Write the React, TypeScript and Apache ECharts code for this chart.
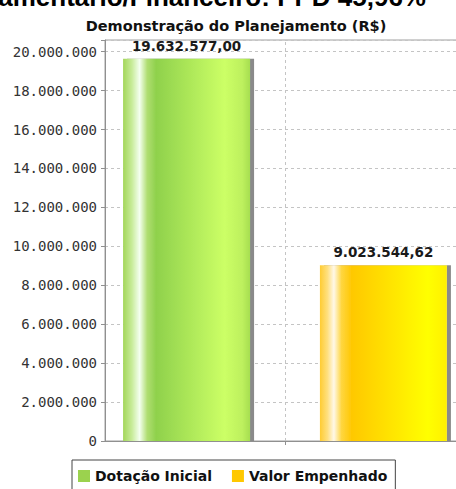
import React, { useEffect, useRef } from "react";
import * as echarts from "echarts";

const titleText = "Orçamentário/Financeiro: PPD 45,96%";
const subtitleText = "Demonstração do Planejamento (R$)";
const categories = [""];
const seriesNames = ["Dotação Inicial", "Valor Empenhado"];
const dotacaoInicial = [19632577.0];
const valorEmpenhado = [9023544.62];
const legendColors = ["#9bd24e", "#ffc800"];

function fmtInt(v: number): string {
  return String(Math.round(v)).replace(/\B(?=(\d{3})+(?!\d))/g, ".");
}
function fmtMoney(v: number): string {
  const [i, d] = v.toFixed(2).split(".");
  return i.replace(/\B(?=(\d{3})+(?!\d))/g, ".") + "," + d;
}

export default function App() {
  const ref = useRef<HTMLDivElement>(null);
  useEffect(() => {
    if (!ref.current) return;
    const chart = echarts.init(ref.current, undefined, { renderer: "svg" });
    const greenGrad = new echarts.graphic.LinearGradient(0, 0, 1, 0, [
      { offset: 0, color: "#a3d65a" },
      { offset: 0.07, color: "#c8ec9a" },
      { offset: 0.13, color: "#f4fff0" },
      { offset: 0.19, color: "#b0de72" },
      { offset: 0.26, color: "#8fd14c" },
      { offset: 0.8, color: "#ccff66" },
      { offset: 0.94, color: "#bdf05e" },
      { offset: 1, color: "#a6de50" },
    ]);
    const yellowGrad = new echarts.graphic.LinearGradient(0, 0, 1, 0, [
      { offset: 0, color: "#ffcc33" },
      { offset: 0.06, color: "#ffe080" },
      { offset: 0.11, color: "#fff8e8" },
      { offset: 0.17, color: "#ffd640" },
      { offset: 0.25, color: "#ffc800" },
      { offset: 0.85, color: "#ffff00" },
      { offset: 1, color: "#fff000" },
    ]);
    const labelCommon = {
      show: true,
      position: "top" as const,
      distance: 6,
      fontFamily: "DejaVu Sans",
      fontWeight: "bold" as const,
      fontSize: 13.5,
      color: "#1a1a1a",
      formatter: (p: any) => fmtMoney(p.value),
    };
    chart.setOption({
      animation: false,
      backgroundColor: "#ffffff",
      grid: {
        left: 105,
        top: 40,
        width: 360,
        height: 401,
        show: true,
        borderColor: "#a0a0a0",
        borderWidth: 1,
        containLabel: false,
        outerBoundsMode: "none",
      },
      graphic: [
        {
          type: "text",
          x: 426,
          y: -3,
          style: {
            text: titleText,
            fontFamily: "Liberation Sans",
            fontWeight: "bold",
            fontSize: 26,
            fill: "#000000",
            align: "right",
            verticalAlign: "middle",
          },
        },
        {
          type: "text",
          x: 236,
          y: 26,
          style: {
            text: subtitleText,
            fontFamily: "DejaVu Sans",
            fontWeight: "bold",
            fontSize: 14.5,
            fill: "#111111",
            align: "center",
            verticalAlign: "middle",
          },
        },
      ],
      legend: {
        left: 72,
        top: 460,
        orient: "horizontal",
        itemWidth: 12,
        itemHeight: 12,
        itemGap: 20,
        padding: [9, 8, 9, 6],
        borderColor: "#444444",
        borderWidth: 1,
        icon: "rect",
        textStyle: {
          fontFamily: "DejaVu Sans",
          fontWeight: "bold",
          fontSize: 14,
          color: "#111111",
        },
        data: [
          { name: seriesNames[0], itemStyle: { color: legendColors[0] } },
          { name: seriesNames[1], itemStyle: { color: legendColors[1] } },
        ],
      },
      xAxis: {
        type: "category",
        data: categories,
        axisLine: { show: true, lineStyle: { color: "#909090" } },
        axisTick: { show: true, alignWithLabel: true, length: 4, lineStyle: { color: "#909090" } },
        axisLabel: { show: false },
        splitLine: { show: false },
      },
      yAxis: {
        type: "value",
        min: 0,
        max: 20600000,
        interval: 2000000,
        axisLine: { show: true, lineStyle: { color: "#909090" } },
        axisTick: { show: true, length: 4, lineStyle: { color: "#909090" } },
        axisLabel: {
          margin: 8,
          fontFamily: "DejaVu Sans Mono",
          fontSize: 14,
          color: "#333333",
          formatter: (v: number) => (v % 2000000 === 0 ? fmtInt(v) : ""),
        },
        splitLine: { show: true, lineStyle: { color: "#c4c4c4", type: [3, 3], width: 1 } },
      },
      series: [
        {
          name: "grade",
          type: "line",
          data: [null],
          silent: true,
          symbol: "none",
          markLine: {
            silent: true,
            symbol: ["none", "none"],
            label: { show: false },
            lineStyle: { color: "#c4c4c4", type: [3, 3], width: 1 },
            data: [{ xAxis: 0 }],
          },
        },
        {
          name: seriesNames[0],
          type: "bar",
          data: dotacaoInicial,
          barWidth: 127,
          barGap: "55%",
          itemStyle: {
            color: greenGrad,
            shadowColor: "#8a8a8a",
            shadowOffsetX: 4,
            shadowOffsetY: 0,
            shadowBlur: 0,
          },
          label: labelCommon,
        },
        {
          name: seriesNames[1],
          type: "bar",
          data: valorEmpenhado,
          barWidth: 127,
          barGap: "55%",
          itemStyle: {
            color: yellowGrad,
            shadowColor: "#8a8a8a",
            shadowOffsetX: 4,
            shadowOffsetY: 0,
            shadowBlur: 0,
          },
          label: labelCommon,
        },
      ],
    });
    return () => chart.dispose();
  }, []);
  return (
    <div
      ref={ref}
      style={{ position: "absolute", left: 0, top: 0, width: 456, height: 489 }}
    />
  );
}
